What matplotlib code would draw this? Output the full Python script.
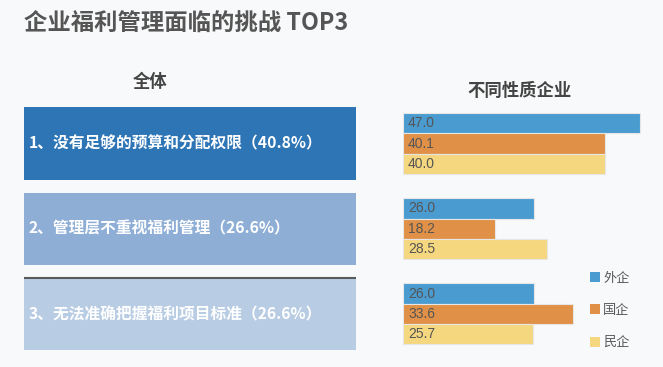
import matplotlib
matplotlib.use('Agg')
import matplotlib.pyplot as plt
from matplotlib.patches import Patch
plt.rcParams['font.family'] = ['Noto Sans CJK SC', 'DejaVu Sans']

title = '企业福利管理面临的挑战 TOP3'
challenges = ['1、没有足够的预算和分配权限（40.8%）',
              '2、管理层不重视福利管理（26.6%）',
              '3、无法准确把握福利项目标准（26.6%）']
overall = [40.8, 26.6, 26.6]
types = ['外企', '国企', '民企']
foreign = [47.0, 26.0, 26.0]   # 外企
state = [40.1, 18.2, 33.6]     # 国企
private = [40.0, 28.5, 25.7]   # 民企

W, H = 663, 367
fig = plt.figure(figsize=(W / 100, H / 100), dpi=100)
fig.patch.set_facecolor('#f8f9fa')

# 纵向坐标：三组，间距 1 = 85 像素
y_top, y_bot = 92.5, 365  # 像素
ylim = (2.6, -0.6)

def fig_rect(x0, x1):
    return [x0 / W, (H - y_bot) / H, (x1 - x0) / W, (y_bot - y_top) / H]

# 左边：全体
axl = fig.add_axes(fig_rect(24, 356))
box_colors = ['#2e75b6', '#8eaed6', '#b8cce4']
pos = list(range(len(challenges)))
axl.barh(pos, [1] * len(pos), height=0.85, color=box_colors, edgecolor='none')
axl.plot([0, 1], [2 - 0.425, 2 - 0.425], color='#5a5a5a', lw=1.5)
for i, t in enumerate(challenges):
    axl.text(0.015, i, t, color='white', fontsize=11.3, fontweight='bold', va='center', ha='left')
axl.set_xlim(0, 1)
axl.set_ylim(*ylim)
axl.axis('off')

# 右边：不同性质企业
axr = fig.add_axes(fig_rect(403, 663))
bar_colors = ['#4a9bd0', '#e09147', '#f5d77f']
h = 0.239
for k, (vals, c) in enumerate(zip([foreign, state, private], bar_colors)):
    yy = [p + (k - 1) * h for p in pos]
    axr.barh(yy, vals, height=h, color=c, edgecolor='#e6e6e6', linewidth=0.8)
    for y, v in zip(yy, vals):
        axr.text(1.0, y, '%.1f' % v, fontsize=10, color='#555555', va='center', ha='left',
                 family=['Liberation Sans', 'DejaVu Sans'])
axr.set_xlim(0, 260 / 5.045)
axr.set_ylim(*ylim)
axr.axis('off')

handles = [Patch(facecolor=c, edgecolor='none') for c in bar_colors]
fig.legend(handles, types, loc='upper left', bbox_to_anchor=(578 / W, 1 - 260 / H),
           frameon=False, fontsize=9.5, labelcolor='#595959', handlelength=0.8,
           handleheight=0.8, handletextpad=0.2, labelspacing=1.45)

fig.text(24 / W, 1 - 24 / H, title, fontsize=16.8, fontweight='bold', color='#555555', va='center', ha='left')
fig.text(150 / W, 1 - 82 / H, '全体', fontsize=12.5, fontweight='bold', color='#444444', va='center', ha='center')
fig.text(520 / W, 1 - 91 / H, '不同性质企业', fontsize=12.5, fontweight='bold', color='#444444', va='center', ha='center')

fig.savefig('out.png', dpi=100, facecolor=fig.get_facecolor())
